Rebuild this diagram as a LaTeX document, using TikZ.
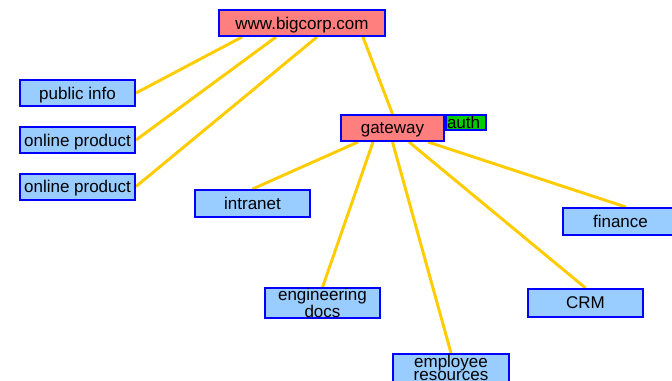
\documentclass[tikz,border=0pt]{standalone}
\usepackage{fontspec}
\setmainfont{Liberation Sans}
\usetikzlibrary{backgrounds}
\definecolor{pinkfill}{HTML}{FF7F7F}
\definecolor{bluefill}{HTML}{99CCFF}
\definecolor{edgeyellow}{HTML}{FFCC00}
\definecolor{authgreen}{HTML}{00CC00}
\definecolor{borderblue}{HTML}{0000FF}
\tikzset{
  box/.style={draw=borderblue, line width=1.5pt, inner sep=0pt, align=center,
    font=\fontsize{12.75}{10}\selectfont, text depth=0pt},
  hub/.style={box, fill=pinkfill},
  leaf/.style={box, fill=bluefill, minimum width=86.25pt, minimum height=19.5pt},
  authbox/.style={box, fill=authgreen, minimum width=30pt, minimum height=11.25pt, text width=28.5pt, align=left},
  link/.style={draw=edgeyellow, line width=2.2pt},
}
\begin{document}
\begin{tikzpicture}[x=0.75pt, y=-0.75pt]
\useasboundingbox (0,0) rectangle (672,380);
\clip (0,0) rectangle (672,380);

\node[hub, minimum width=124.5pt, minimum height=19.5pt] (bigcorp) at (302,23) {www.bigcorp.com};
\node[leaf] (public) at (77.5,93) {public info};
\node[leaf] (online1) at (77.5,140) {online product};
\node[leaf] (online2) at (77.5,186.5) {online product};
\node[authbox] (auth) at (466,122.5) {auth};
\node[hub, minimum width=77.25pt, minimum height=19.5pt] (gateway) at (392.5,128) {gateway};
\node[leaf, minimum height=20.25pt] (intranet) at (252.5,203.5) {intranet};
\node[leaf, minimum height=21pt] (eng) at (322.5,303) {engineering\\docs};
\node[leaf, minimum width=87pt, minimum height=21pt] (emp) at (451,368) {employee\\resources};
\node[leaf, minimum height=21pt] (crm) at (585.5,303) {CRM};
\node[leaf, minimum height=20.25pt] (finance) at (620.5,221.5) {finance};

\begin{pgfonlayer}{background}
\fill[white] (0,0) rectangle (672,380);
\draw[link] ([xshift=18pt]bigcorp.south west) -- (public.east);
\draw[link] ([xshift=43.5pt]bigcorp.south west) -- (online1.east);
\draw[link] ([xshift=74.25pt]bigcorp.south west) -- (online2.east);
\draw[link] ([xshift=108.75pt]bigcorp.south west) -- (gateway.north);
\draw[link] ([xshift=13.5pt]gateway.south west) -- (intranet.north);
\draw[link] ([xshift=24.75pt]gateway.south west) -- (eng.north);
\draw[link] (gateway.south) -- (emp.north);
\draw[link] ([xshift=51.75pt]gateway.south west) -- (crm.north);
\draw[link] ([xshift=66pt]gateway.south west) -- ([xshift=4pt]finance.north);
\end{pgfonlayer}
\end{tikzpicture}
\end{document}
